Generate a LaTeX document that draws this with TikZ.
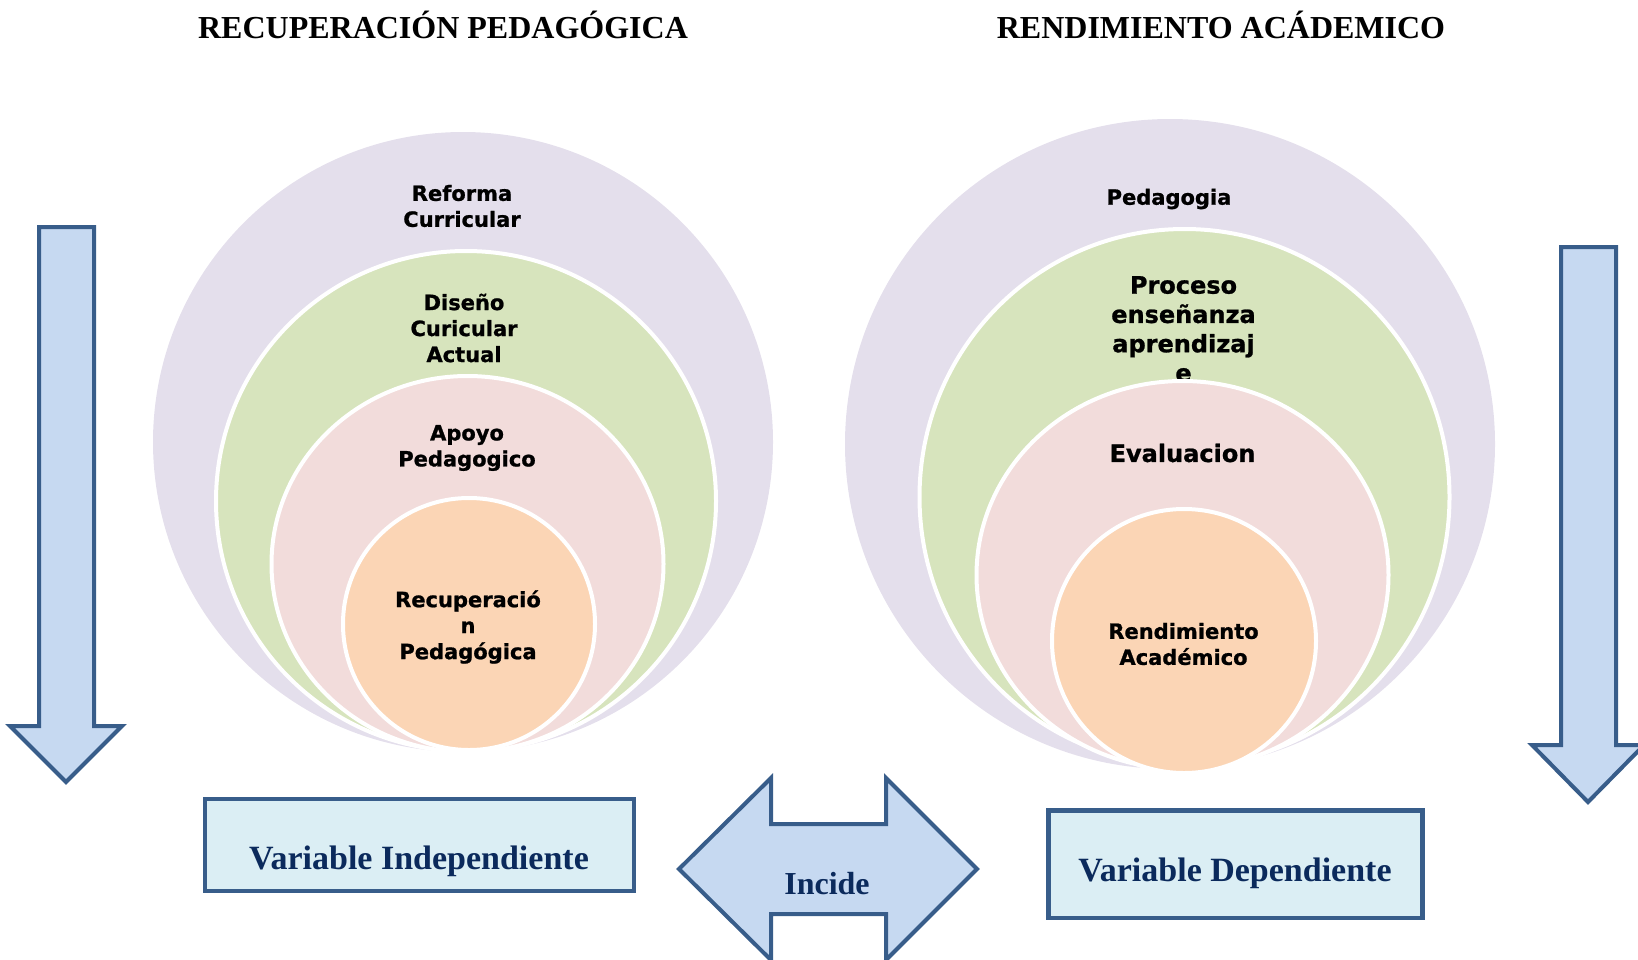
\documentclass[tikz,border=0pt]{standalone}
\usepackage{fontspec}
\setmainfont{Liberation Serif}
\newfontfamily\verd[BoldFeatures={FakeBold=1}]{DejaVu Sans}
\definecolor{purp}{HTML}{E4DFEC}
\definecolor{grn}{HTML}{D7E4BD}
\definecolor{pnk}{HTML}{F2DCDB}
\definecolor{org}{HTML}{FBD5B5}
\definecolor{arrowfill}{HTML}{C6D9F1}
\definecolor{arrowline}{HTML}{385D8A}
\definecolor{boxfill}{HTML}{DBEEF4}
\definecolor{navy}{HTML}{0B2A5C}
\tikzset{
  ring/.style={draw=white, line width=4pt},
  ctext/.style={font=\verd\bfseries\fontsize{21}{26}\selectfont, align=center, inner sep=0pt},
  btext/.style={font=\verd\bfseries\fontsize{24}{29.3}\selectfont, align=center, inner sep=0pt},
  arr/.style={fill=arrowfill, draw=arrowline, line width=4pt},
  vbox/.style={rectangle, fill=boxfill, draw=arrowline, line width=4.5pt, inner sep=0pt},
  vtext/.style={font=\bfseries\fontsize{34}{40}\selectfont, text=navy, inner sep=0pt, anchor=base},
  title/.style={font=\bfseries\fontsize{32}{38}\selectfont, inner sep=0pt, anchor=base},
}
\begin{document}
\begin{tikzpicture}[x=1pt,y=-1pt]
\useasboundingbox (0,0) rectangle (1638,959);

% titles
\node[title] (t1) at (443,38) {RECUPERACIÓN PEDAGÓGICA};
\node[title] (t2) at (1221,38) {RENDIMIENTO ACÁDEMICO};

% left target
\fill[purp] (463,442) circle[radius=310pt];
\node[ctext] (l1) at (462,206) {Reforma\\Curricular};
\filldraw[fill=grn, ring] (466,501) ellipse[x radius=250pt, y radius=250pt];
\node[ctext] (l2) at (464,328) {Diseño\\Curicular\\Actual};
\filldraw[fill=pnk, ring] (467.5,564) ellipse[x radius=196pt, y radius=188pt];
\node[ctext] (l3) at (467,448) {Apoyo\\Pedagogico};
\filldraw[fill=org, ring] (469,624) circle[radius=126pt];
\node[ctext] (l4) at (468,627) {Recuperació\\n\\Pedagógica};

% right target
\fill[purp] (1170,444) circle[radius=325pt];
\node[ctext] (r1) at (1169,199) {Pedagogia};
\filldraw[fill=grn, ring] (1184.5,497) ellipse[x radius=265pt, y radius=268pt];
\node[btext] (r2) at (1183.5,329) {Proceso\\enseñanza\\aprendizaj\\e};
\filldraw[fill=pnk, ring] (1182.5,575) ellipse[x radius=206pt, y radius=194pt];
\node[btext] (r3) at (1182.5,453) {Evaluacion};
\filldraw[fill=org, ring] (1184,641) circle[radius=132pt];
\node[ctext] (r4) at (1183.5,644) {Rendimiento\\Académico};

% down arrows
\draw[arr] (39,227) -- (94,227) -- (94,726) -- (122,726) -- (66,782) -- (10,726) -- (39,726) -- cycle;
\draw[arr] (1561,247) -- (1616,247) -- (1616,745) -- (1644,745) -- (1588,802) -- (1532,745) -- (1561,745) -- cycle;

% boxes
\node[vbox, minimum width=429pt, minimum height=92pt] (bi) at (419.4,845) {};
\node[vtext] (ti) at (419,869) {Variable Independiente};
\node[vbox, minimum width=374pt, minimum height=107.6pt] (bd) at (1235.7,864.4) {};
\node[vtext] (td) at (1235,881) {Variable Dependiente};

% double arrow
\draw[arr] (679,869) -- (771,778) -- (771,824) -- (886,824) -- (886,778) -- (977,869) -- (886,960) -- (886,914) -- (771,914) -- (771,960) -- cycle;
\node[vtext, font=\bfseries\fontsize{32}{38}\selectfont] (inc) at (827,894) {Incide};
\end{tikzpicture}
\end{document}
